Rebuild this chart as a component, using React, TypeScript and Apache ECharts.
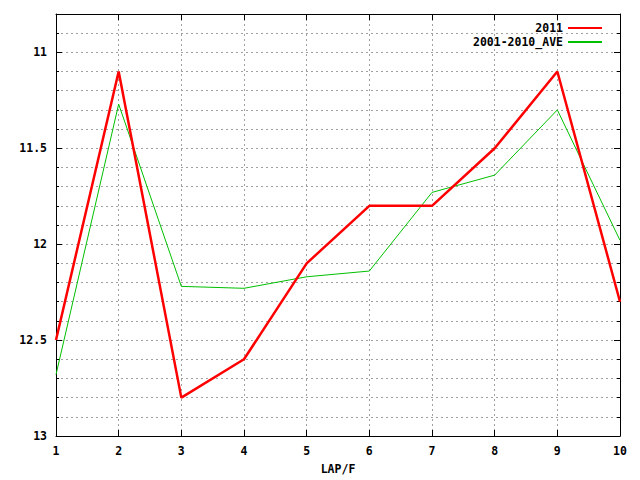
import React, { useEffect, useRef } from "react";
import * as echarts from "echarts";

const laps = [1, 2, 3, 4, 5, 6, 7, 8, 9, 10];
const series2011 = [12.5, 11.1, 12.8, 12.6, 12.1, 11.8, 11.8, 11.5, 11.1, 12.3];
const seriesAve = [12.68, 11.27, 12.22, 12.23, 12.17, 12.14, 11.73, 11.64, 11.3, 11.98];
const yMajorTicks = [11, 11.5, 12, 12.5, 13];
const legendNames = ["2011", "2001-2010_AVE"];

const FONT = "'DejaVu Sans Mono', monospace";

export default function App() {
  const ref = useRef<HTMLDivElement>(null);
  useEffect(() => {
    if (!ref.current) return;
    const chart = echarts.init(ref.current, null, { renderer: "svg" });
    const yBase = {
      type: "value" as const,
      inverse: true,
      min: 10.8,
      max: 13,
    };
    const dotted = { show: true, lineStyle: { color: "#a0a0a0", type: [2, 3] as any, width: 1 } };
    chart.setOption({
      animation: false,
      backgroundColor: "#ffffff",
      grid: { left: 56, right: 20, top: 14, bottom: 40, containLabel: false },
      legend: {
        orient: "vertical",
        right: 32,
        top: 17,
        align: "right",
        itemWidth: 34,
        itemHeight: 10,
        itemGap: 2,
        itemStyle: { opacity: 0 },
        textStyle: { fontFamily: FONT, fontWeight: "bold", fontSize: 11.5, color: "#000" },
        data: legendNames,
      },
      xAxis: [
        {
          type: "value",
          min: 1,
          max: 10,
          interval: 1,
          position: "bottom",
          name: "LAP/F",
          nameLocation: "middle",
          nameGap: 27,
          nameTextStyle: { fontFamily: FONT, fontWeight: "bold", fontSize: 11.5, color: "#000" },
          axisLine: { show: true, lineStyle: { color: "#000", width: 1 } },
          axisTick: { show: true, inside: true, length: 6, lineStyle: { color: "#000" } },
          axisLabel: { fontFamily: FONT, fontWeight: "bold", fontSize: 11.5, color: "#000", margin: 9 },
          splitLine: dotted,
        },
        {
          type: "value",
          min: 1,
          max: 10,
          interval: 1,
          position: "top",
          axisLine: { show: true, lineStyle: { color: "#000", width: 1 } },
          axisTick: { show: true, inside: true, length: 6, lineStyle: { color: "#000" } },
          axisLabel: { show: false },
          splitLine: { show: false },
        },
      ],
      yAxis: [
        {
          ...yBase,
          position: "left",
          interval: 0.1,
          axisLine: { show: true, lineStyle: { color: "#000", width: 1 } },
          axisTick: { show: true, inside: true, length: 3, lineStyle: { color: "#000" } },
          axisLabel: { show: false },
          splitLine: dotted,
        },
        {
          ...yBase,
          position: "left",
          axisLine: { show: false },
          axisTick: { show: true, inside: true, length: 6, customValues: yMajorTicks, lineStyle: { color: "#000" } },
          axisLabel: {
            show: true,
            customValues: yMajorTicks,
            fontFamily: FONT,
            fontWeight: "bold",
            fontSize: 11.5,
            color: "#000",
            margin: 9,
          },
          splitLine: { show: false },
        },
        {
          ...yBase,
          position: "right",
          interval: 0.1,
          axisLine: { show: true, lineStyle: { color: "#000", width: 1 } },
          axisTick: { show: true, inside: true, length: 3, lineStyle: { color: "#000" } },
          axisLabel: { show: false },
          splitLine: { show: false },
        },
        {
          ...yBase,
          position: "right",
          axisLine: { show: false },
          axisTick: { show: true, inside: true, length: 6, customValues: yMajorTicks, lineStyle: { color: "#000" } },
          axisLabel: { show: false },
          splitLine: { show: false },
        },
      ],
      series: [
        {
          name: legendNames[0],
          type: "line",
          xAxisIndex: 0,
          yAxisIndex: 0,
          symbol: "none",
          data: laps.map((l, i) => [l, series2011[i]]),
          lineStyle: { color: "#ff0000", width: 2.5 },
          itemStyle: { color: "#ff0000" },
          z: 3,
        },
        {
          name: legendNames[1],
          type: "line",
          xAxisIndex: 0,
          yAxisIndex: 0,
          symbol: "none",
          data: laps.map((l, i) => [l, seriesAve[i]]),
          lineStyle: { color: "#00c000", width: 1 },
          itemStyle: { color: "#00c000" },
          z: 2,
        },
      ],
    });
    return () => chart.dispose();
  }, []);
  return <div ref={ref} style={{ width: 640, height: 480, position: "absolute", left: 0, top: 0 }} />;
}
